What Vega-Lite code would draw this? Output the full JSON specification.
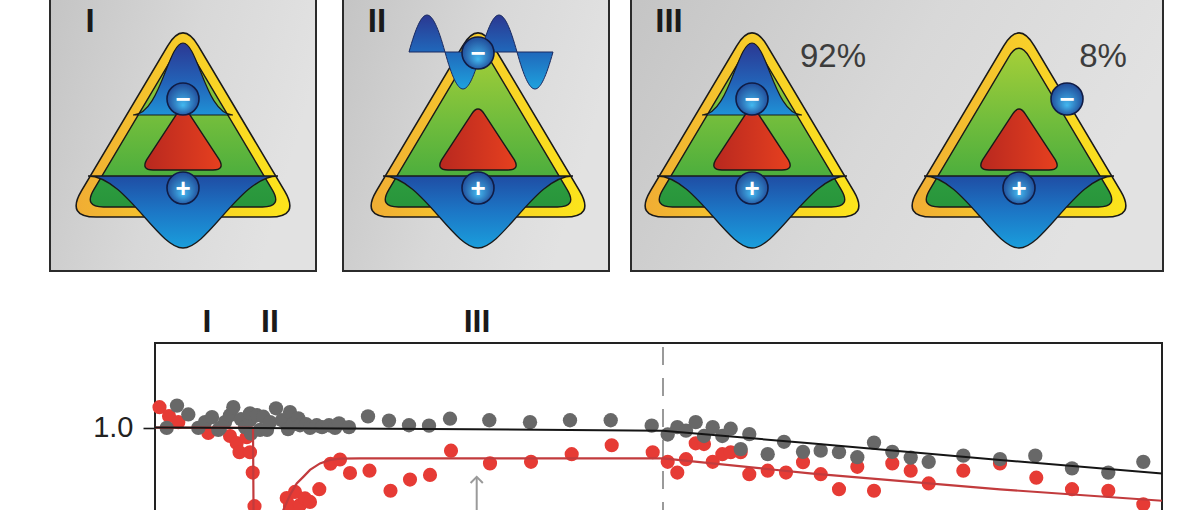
{
  "$schema": "https://vega.github.io/schema/vega-lite/v6.json",
  "description": "Schematic of three charge states (I, II, III) above a two-series time trace with fits.",
  "width": 1201,
  "height": 510,
  "padding": 0,
  "autosize": "none",
  "background": "white",
  "datasets": {
    "panels": [
      {"ux": 5.0, "ux2": 31.6, "uy": -1, "uy2": 27.1},
      {"ux": 34.3, "ux2": 60.9, "uy": -1, "uy2": 27.1},
      {"ux": 63.1, "ux2": 116.3, "uy": -1, "uy2": 27.1}
    ],
    "tri": [
      {"ux": 18.3, "uy": 14, "bell": true},
      {"ux": 47.8, "uy": 14, "bell": false},
      {"ux": 75.2, "uy": 14, "bell": true},
      {"ux": 101.9, "uy": 14, "bell": false}
    ],
    "wave": [{"ux": 47.8, "uy": 14}],
    "ions": [
      {"ux": 18.3, "uy": 9.9, "sign": "−"},
      {"ux": 18.3, "uy": 18.8, "sign": "+"},
      {"ux": 47.8, "uy": 5.3, "sign": "−"},
      {"ux": 47.8, "uy": 18.8, "sign": "+"},
      {"ux": 75.2, "uy": 9.9, "sign": "−"},
      {"ux": 75.2, "uy": 18.8, "sign": "+"},
      {"ux": 106.7, "uy": 9.9, "sign": "−"},
      {"ux": 101.9, "uy": 18.8, "sign": "+"}
    ],
    "numerals": [
      {"ux": 9.0, "uy": 3.2, "label": "I"},
      {"ux": 37.7, "uy": 3.2, "label": "II"},
      {"ux": 66.9, "uy": 3.2, "label": "III"}
    ],
    "pct": [
      {"ux": 83.3, "uy": 6.7, "label": "92%"},
      {"ux": 110.3, "uy": 6.7, "label": "8%"}
    ],
    "gray": [
      {"t": 1.17, "v": 0.999}, {"t": 2.2, "v": 1.057}, {"t": 3.33, "v": 1.034}, {"t": 4.33, "v": 0.999},
      {"t": 5.0, "v": 1.014}, {"t": 5.7, "v": 1.027}, {"t": 6.33, "v": 0.994}, {"t": 6.5, "v": 0.999},
      {"t": 7.0, "v": 1.014}, {"t": 7.5, "v": 1.032}, {"t": 7.83, "v": 1.053}, {"t": 8.6, "v": 1.022},
      {"t": 9.0, "v": 1.001}, {"t": 9.5, "v": 1.019}, {"t": 9.5, "v": 1.037}, {"t": 9.6, "v": 0.984},
      {"t": 10.2, "v": 1.032}, {"t": 10.5, "v": 0.994}, {"t": 10.83, "v": 1.028}, {"t": 11.2, "v": 0.994},
      {"t": 11.5, "v": 1.014}, {"t": 12.1, "v": 1.05}, {"t": 12.7, "v": 1.019}, {"t": 13.3, "v": 0.996},
      {"t": 13.5, "v": 1.04}, {"t": 13.8, "v": 1.009}, {"t": 14.33, "v": 1.024}, {"t": 14.5, "v": 1.006},
      {"t": 15.1, "v": 1.009}, {"t": 15.5, "v": 0.999}, {"t": 16.17, "v": 1.006}, {"t": 16.7, "v": 1.001},
      {"t": 17.4, "v": 1.006}, {"t": 18.0, "v": 0.999}, {"t": 18.4, "v": 1.011}, {"t": 19.4, "v": 1.001},
      {"t": 21.3, "v": 1.029}, {"t": 23.4, "v": 1.018}, {"t": 25.4, "v": 1.006}, {"t": 27.4, "v": 1.005},
      {"t": 29.5, "v": 1.023}, {"t": 33.43, "v": 1.019}, {"t": 37.5, "v": 1.014}, {"t": 41.5, "v": 1.019},
      {"t": 45.57, "v": 1.019}, {"t": 49.67, "v": 1.005}, {"t": 51.27, "v": 0.982}, {"t": 52.23, "v": 1.001},
      {"t": 53.1, "v": 0.992}, {"t": 54.07, "v": 1.014}, {"t": 54.9, "v": 0.978}, {"t": 55.77, "v": 1.001},
      {"t": 56.73, "v": 0.978}, {"t": 57.57, "v": 0.997}, {"t": 58.57, "v": 0.944}, {"t": 59.43, "v": 0.983},
      {"t": 61.27, "v": 0.931}, {"t": 62.9, "v": 0.963}, {"t": 64.8, "v": 0.937}, {"t": 66.57, "v": 0.94},
      {"t": 68.4, "v": 0.936}, {"t": 70.23, "v": 0.923}, {"t": 71.9, "v": 0.961}, {"t": 73.73, "v": 0.937},
      {"t": 75.57, "v": 0.922}, {"t": 77.37, "v": 0.911}, {"t": 80.83, "v": 0.927}, {"t": 84.5, "v": 0.918},
      {"t": 88.03, "v": 0.927}, {"t": 91.7, "v": 0.894}, {"t": 95.33, "v": 0.883}, {"t": 98.83, "v": 0.911}
    ],
    "red": [
      {"t": 0.45, "v": 1.053}, {"t": 1.4, "v": 1.03}, {"t": 2.33, "v": 1.014}, {"t": 5.33, "v": 0.986},
      {"t": 7.5, "v": 0.978}, {"t": 8.17, "v": 0.96}, {"t": 8.45, "v": 0.936}, {"t": 9.17, "v": 0.975},
      {"t": 9.5, "v": 0.936}, {"t": 9.77, "v": 0.883}, {"t": 9.95, "v": 0.796}, {"t": 13.17, "v": 0.817},
      {"t": 13.5, "v": 0.796}, {"t": 14.0, "v": 0.833}, {"t": 14.5, "v": 0.799}, {"t": 15.0, "v": 0.816},
      {"t": 15.5, "v": 0.807}, {"t": 16.43, "v": 0.84}, {"t": 17.55, "v": 0.906}, {"t": 18.5, "v": 0.917},
      {"t": 19.5, "v": 0.882}, {"t": 21.45, "v": 0.888}, {"t": 23.55, "v": 0.836}, {"t": 25.5, "v": 0.865},
      {"t": 27.5, "v": 0.877}, {"t": 29.6, "v": 0.94}, {"t": 33.5, "v": 0.907}, {"t": 37.6, "v": 0.911},
      {"t": 41.67, "v": 0.931}, {"t": 45.67, "v": 0.954}, {"t": 49.77, "v": 0.936}, {"t": 51.27, "v": 0.911},
      {"t": 52.23, "v": 0.883}, {"t": 53.1, "v": 0.918}, {"t": 54.07, "v": 0.959}, {"t": 54.9, "v": 0.957},
      {"t": 55.77, "v": 0.911}, {"t": 56.73, "v": 0.931}, {"t": 57.57, "v": 0.936}, {"t": 58.57, "v": 0.936},
      {"t": 59.43, "v": 0.879}, {"t": 61.27, "v": 0.888}, {"t": 63.1, "v": 0.883}, {"t": 64.8, "v": 0.91},
      {"t": 66.57, "v": 0.879}, {"t": 68.4, "v": 0.84}, {"t": 70.23, "v": 0.898}, {"t": 71.9, "v": 0.836},
      {"t": 73.73, "v": 0.907}, {"t": 75.57, "v": 0.888}, {"t": 77.37, "v": 0.855}, {"t": 80.83, "v": 0.888},
      {"t": 84.5, "v": 0.907}, {"t": 88.13, "v": 0.87}, {"t": 91.7, "v": 0.84}, {"t": 95.33, "v": 0.836},
      {"t": 98.83, "v": 0.801}
    ],
    "blackfit": [
      {"t": 0, "v": 1.0}, {"t": 27.5, "v": 0.996}, {"t": 50.8, "v": 0.992},
      {"t": 65.5, "v": 0.959}, {"t": 84.5, "v": 0.916}, {"t": 100.7, "v": 0.881}
    ],
    "redfit": [
      {"t": 0, "v": 1.0}, {"t": 9.8, "v": 0.999}, {"t": 9.9, "v": 0.6}, {"t": 11.0, "v": 0.35},
      {"t": 12.2, "v": 0.62}, {"t": 12.83, "v": 0.786}, {"t": 13.5, "v": 0.825}, {"t": 14.17, "v": 0.855},
      {"t": 14.83, "v": 0.872}, {"t": 15.5, "v": 0.89}, {"t": 16.5, "v": 0.907}, {"t": 17.5, "v": 0.916},
      {"t": 18.5, "v": 0.9195}, {"t": 20.5, "v": 0.92}, {"t": 50.8, "v": 0.92}, {"t": 65.5, "v": 0.881},
      {"t": 84.5, "v": 0.8395}, {"t": 100.7, "v": 0.81}
    ],
    "frame": [{"t": 0, "t2": 100.7, "v": 0.7, "v2": 1.2195}],
    "marker": [{"t": 50.8, "v": 0.76, "v2": 1.2195}],
    "arrow": [{"t": 32.17, "v": 0.72, "v2": 0.872}],
    "stages": [
      {"t": 5.2, "v": 1.248, "label": "I"},
      {"t": 11.5, "v": 1.248, "label": "II"},
      {"t": 32.2, "v": 1.248, "label": "III"}
    ]
  },
  "resolve": {"scale": {"x": "independent", "y": "independent"}},
  "layer": [
    {
      "encoding": {
        "x": {"field": "ux", "type": "quantitative", "axis": null,
              "scale": {"domain": [0, 120.1], "range": [0, 1201], "nice": false, "zero": false}},
        "y": {"field": "uy", "type": "quantitative", "axis": null,
              "scale": {"domain": [0, 51], "range": [0, 510], "nice": false, "zero": false}}
      },
      "layer": [
        {
          "data": {"name": "panels"},
          "mark": {"type": "rect", "stroke": "#2b2b2b", "strokeWidth": 2,
                   "fill": {"gradient": "linear", "x1": 0, "y1": 0, "x2": 1, "y2": 0.3,
                            "stops": [{"offset": 0, "color": "#c4c4c4"}, {"offset": 0.55, "color": "#d8d8d8"}, {"offset": 1, "color": "#e2e2e2"}]}},
          "encoding": {"x2": {"field": "ux2"}, "y2": {"field": "uy2"}}
        },
        {
          "data": {"name": "tri"},
          "mark": {"type": "point", "filled": true, "opacity": 1, "size": 57600,
                   "shape": "M -0.1275 -0.785 Q 0 -1 0.1275 -0.785 L 0.8475 0.4267 Q 0.975 0.642 0.725 0.642 L -0.725 0.642 Q -0.975 0.642 -0.8475 0.4267 Z",
                   "stroke": "#1a1a1a", "strokeWidth": 1.6,
                   "fill": {"gradient": "linear", "x1": 0, "y1": 0.5, "x2": 1, "y2": 0.5,
                            "stops": [{"offset": 0, "color": "#f0ad34"}, {"offset": 0.5, "color": "#f7cd2a"}, {"offset": 1, "color": "#fce51b"}]}}
        },
        {
          "data": {"name": "tri"},
          "mark": {"type": "point", "filled": true, "opacity": 1, "size": 57600,
                   "shape": "M -0.085 -0.6933 Q 0 -0.8367 0.085 -0.6933 L 0.7442 0.415 Q 0.8292 0.5583 0.6625 0.5583 L -0.6625 0.5583 Q -0.8292 0.5583 -0.7442 0.415 Z",
                   "stroke": "#1a1a1a", "strokeWidth": 1.4,
                   "fill": {"gradient": "linear", "x1": 0.5, "y1": 0, "x2": 0.5, "y2": 1,
                            "stops": [{"offset": 0, "color": "#a6cf38"}, {"offset": 0.45, "color": "#72bd3c"}, {"offset": 0.81, "color": "#4cae3d"}, {"offset": 0.815, "color": "#2d9c3f"}, {"offset": 1, "color": "#28953b"}]}}
        },
        {
          "data": {"name": "tri"},
          "transform": [{"filter": "datum.bell"}],
          "mark": {"type": "point", "filled": true, "opacity": 1, "size": 57600,
                   "shape": "M -0.4167 -0.2083 C -0.1917 -0.2083 -0.125 -0.8083 0 -0.8083 C 0.125 -0.8083 0.1917 -0.2083 0.4167 -0.2083 Z",
                   "stroke": "#1a1a1a", "strokeWidth": 1.2,
                   "fill": {"gradient": "linear", "x1": 0.5, "y1": 0, "x2": 0.5, "y2": 1,
                            "stops": [{"offset": 0, "color": "#2b3893"}, {"offset": 0.55, "color": "#2363b8"}, {"offset": 1, "color": "#1f92d6"}]}}
        },
        {
          "data": {"name": "tri"},
          "mark": {"type": "point", "filled": true, "opacity": 1, "size": 57600,
                   "shape": "M -0.7917 0.3 C -0.4833 0.3 -0.2083 0.9 0 0.9 C 0.2083 0.9 0.4833 0.3 0.7917 0.3 Z",
                   "stroke": "#1a1a1a", "strokeWidth": 1.3,
                   "fill": {"gradient": "linear", "x1": 0.5, "y1": 0, "x2": 0.5, "y2": 1,
                            "stops": [{"offset": 0, "color": "#1f4da4"}, {"offset": 0.5, "color": "#1c77c6"}, {"offset": 1, "color": "#1a9edc"}]}}
        },
        {
          "data": {"name": "tri"},
          "mark": {"type": "point", "filled": true, "opacity": 1, "size": 57600,
                   "shape": "M -0.0533 -0.2158 Q 0 -0.3 0.0533 -0.2158 L 0.3033 0.1658 Q 0.35 0.25 0.25 0.25 L -0.25 0.25 Q -0.35 0.25 -0.3033 0.1658 Z",
                   "stroke": "#1a1a1a", "strokeWidth": 1.4,
                   "fill": {"gradient": "linear", "x1": 0, "y1": 0.5, "x2": 1, "y2": 0.5,
                            "stops": [{"offset": 0, "color": "#b8281f"}, {"offset": 1, "color": "#e6401f"}]}}
        },
        {
          "data": {"name": "wave"},
          "mark": {"type": "point", "filled": true, "opacity": 1, "size": 57600,
                   "shape": "M -0.575 -0.7333 C -0.461 -1.1443 -0.389 -1.1443 -0.275 -0.7333 C -0.161 -0.3223 -0.089 -0.3223 0.025 -0.7333 C 0.139 -1.1443 0.211 -1.1443 0.325 -0.7333 C 0.439 -0.3223 0.511 -0.3223 0.625 -0.7333 Z",
                   "stroke": "#1a2a60", "strokeWidth": 1,
                   "fill": {"gradient": "linear", "x1": 0.5, "y1": 0, "x2": 0.5, "y2": 1,
                            "stops": [{"offset": 0, "color": "#2b3891"}, {"offset": 0.5, "color": "#2068bb"}, {"offset": 1, "color": "#1ea2de"}]}}
        },
        {
          "data": {"name": "ions"},
          "mark": {"type": "point", "shape": "circle", "filled": true, "opacity": 1, "size": 1024,
                   "stroke": "#101c45", "strokeWidth": 1.6,
                   "fill": {"gradient": "radial", "x1": 0.5, "y1": 0.7, "r1": 0, "x2": 0.5, "y2": 0.5, "r2": 0.6,
                            "stops": [{"offset": 0, "color": "#43b8ef"}, {"offset": 1, "color": "#1b3b8c"}]}}
        },
        {
          "data": {"name": "ions"},
          "mark": {"type": "text", "color": "white", "font": "Liberation Sans", "fontWeight": "bold",
                   "fontSize": 26, "align": "center", "baseline": "middle", "dy": 1},
          "encoding": {"text": {"field": "sign"}}
        },
        {
          "data": {"name": "numerals"},
          "mark": {"type": "text", "color": "#1a1a1a", "font": "Liberation Sans", "fontWeight": "bold",
                   "fontSize": 33, "align": "center", "baseline": "alphabetic"},
          "encoding": {"text": {"field": "label"}}
        },
        {
          "data": {"name": "pct"},
          "mark": {"type": "text", "color": "#3c3c3c", "font": "Liberation Sans",
                   "fontSize": 33, "align": "center", "baseline": "alphabetic"},
          "encoding": {"text": {"field": "label"}}
        }
      ]
    },
    {
      "encoding": {
        "x": {"field": "t", "type": "quantitative", "axis": null,
              "scale": {"domain": [0, 100.7], "range": [155, 1162], "nice": false, "zero": false}},
        "y": {"field": "v", "type": "quantitative",
              "scale": {"domain": [0.76, 1.2195], "range": [520, 343], "nice": false, "zero": false},
              "axis": {"orient": "left", "offset": -155, "values": [1.0], "format": ".1f", "title": null,
                       "domain": false, "grid": false, "ticks": true, "tickSize": 12, "tickWidth": 1.6,
                       "tickColor": "#1a1a1a", "labelFontSize": 29, "labelFont": "Liberation Sans",
                       "labelColor": "#222222", "labelPadding": 10}}
      },
      "layer": [
        {
          "data": {"name": "frame"},
          "mark": {"type": "rect", "fillOpacity": 0, "fill": "white", "stroke": "#222222", "strokeWidth": 2, "clip": true},
          "encoding": {"x2": {"field": "t2"}, "y2": {"field": "v2"}}
        },
        {
          "data": {"name": "marker"},
          "mark": {"type": "rule", "color": "#9a9a9a", "strokeWidth": 2, "strokeDash": [18, 13], "clip": true},
          "encoding": {"y2": {"field": "v2"}}
        },
        {
          "data": {"name": "arrow"},
          "mark": {"type": "rule", "color": "#9a9a9a", "strokeWidth": 2, "clip": true},
          "encoding": {"y2": {"field": "v2"}}
        },
        {
          "data": {"name": "arrow"},
          "mark": {"type": "point", "shape": "M -1 1 L 0 0 L 1 1", "filled": false, "opacity": 1,
                   "size": 150, "stroke": "#9a9a9a", "strokeWidth": 2},
          "encoding": {"y": {"field": "v2", "type": "quantitative"}}
        },
        {
          "data": {"name": "red"},
          "mark": {"type": "circle", "color": "#e63b35", "opacity": 1, "size": 200, "clip": true}
        },
        {
          "data": {"name": "gray"},
          "mark": {"type": "circle", "color": "#686868", "opacity": 1, "size": 205, "clip": true}
        },
        {
          "data": {"name": "redfit"},
          "mark": {"type": "line", "color": "#c23b3d", "strokeWidth": 2.2, "clip": true}
        },
        {
          "data": {"name": "blackfit"},
          "mark": {"type": "line", "color": "#151515", "strokeWidth": 2, "clip": true}
        },
        {
          "data": {"name": "stages"},
          "mark": {"type": "text", "color": "#1a1a1a", "font": "Liberation Sans", "fontWeight": "bold",
                   "fontSize": 32, "align": "center", "baseline": "alphabetic"},
          "encoding": {"text": {"field": "label"}}
        }
      ]
    }
  ],
  "config": {
    "view": {"stroke": null},
    "font": "Liberation Sans"
  }
}
